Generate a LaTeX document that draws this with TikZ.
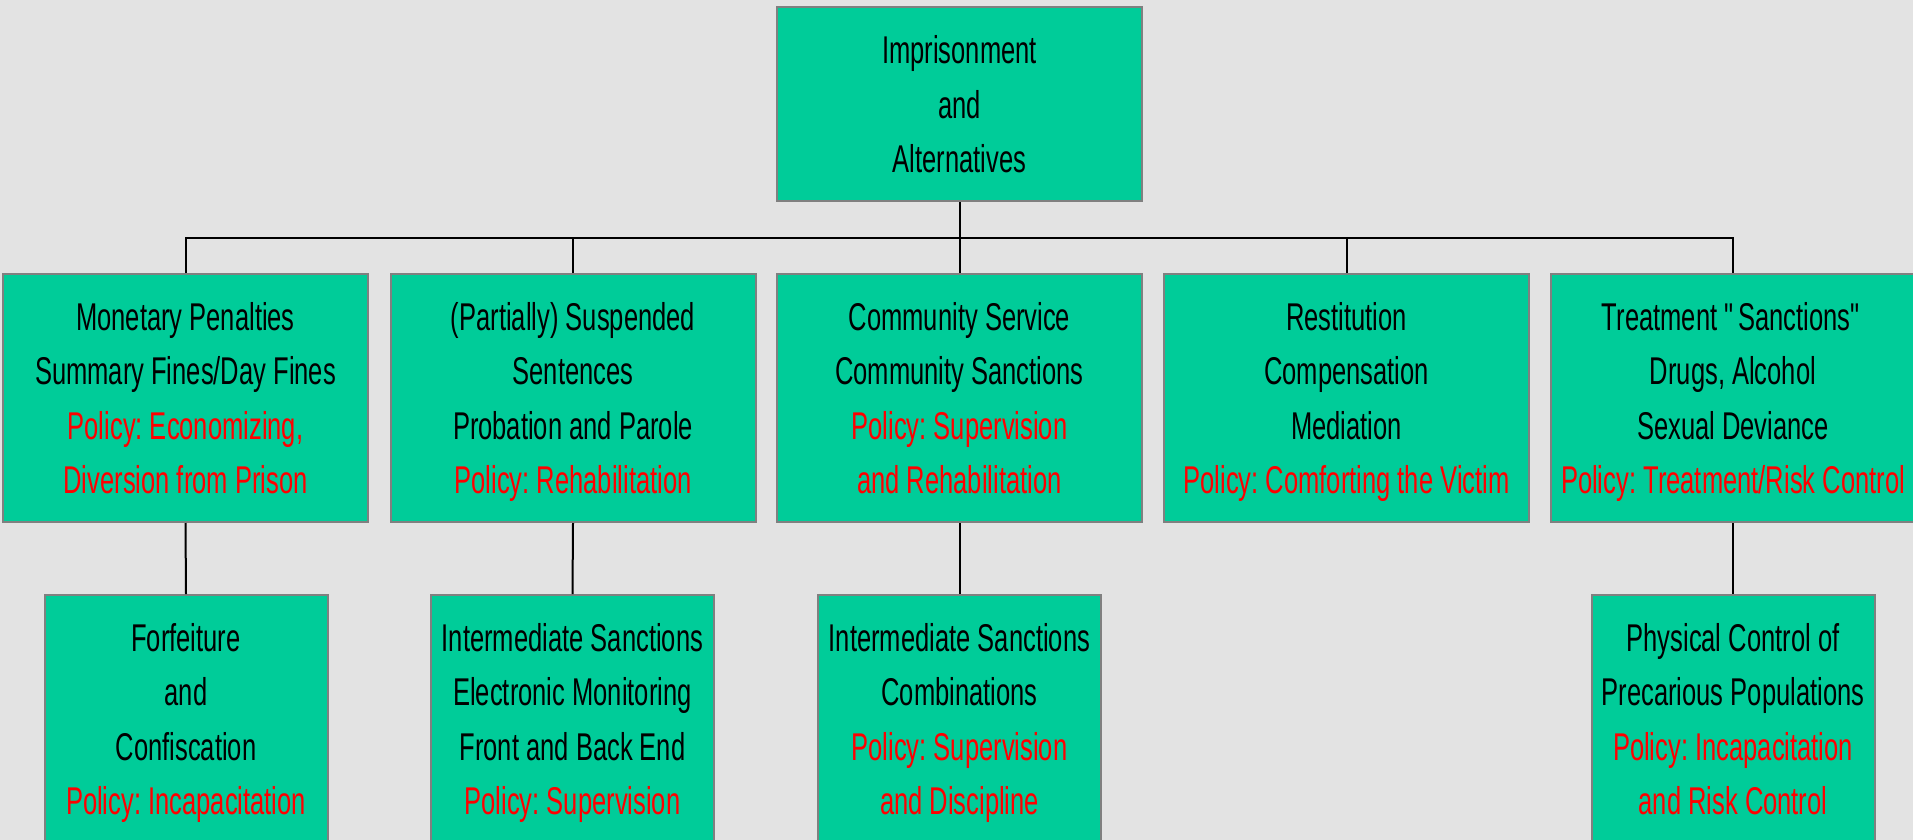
\documentclass[tikz,border=0pt]{standalone}
\usepackage{fontspec}
\setmainfont{Liberation Sans}[FakeStretch=0.66]
\definecolor{bggray}{RGB}{227,227,227}
\definecolor{boxgreen}{RGB}{0,204,153}
\definecolor{boxgray}{RGB}{128,128,128}
\definecolor{policyred}{RGB}{255,0,0}
\newcommand{\pol}[1]{\textcolor{policyred}{#1}}
\frenchspacing
\tikzset{
  orgbox/.style={draw=boxgray, line width=2pt, fill=boxgreen, align=center,
    font=\fontsize{38.7}{54.5}\selectfont\frenchspacing, inner sep=0pt,
    minimum width=365pt, minimum height=248pt,
    text height=191.5pt, text depth=0pt},
  subbox/.style={orgbox, minimum width=283pt},
  link/.style={draw=black, line width=2pt}
}
\begin{document}
\begin{tikzpicture}[x=1pt,y=-1pt]
\path[use as bounding box, fill=bggray] (0,0) rectangle (1913,840);
\clip (0,0) rectangle (1913,840);
\node[orgbox, minimum height=194pt, text height=137pt] (top) at (959.5,104) {Imprisonment\\and\\Alternatives};
\node[orgbox] (m1) at (185.5,398) {Monetary Penalties\\Summary Fines/Day Fines\\\pol{Policy: Economizing,}\\\pol{Diversion from Prison}};
\node[orgbox] (m2) at (573,398) {(Partially) Suspended\\Sentences\\Probation and Parole\\\pol{Policy: Rehabilitation}};
\node[orgbox] (m3) at (959.5,398) {Community Service\\Community Sanctions\\\pol{Policy: Supervision}\\\pol{and Rehabilitation}};
\node[orgbox] (m4) at (1346.5,398) {Restitution\\Compensation\\Mediation\\\pol{Policy: Comforting the Victim}};
\node[orgbox] (m5) at (1733,398) {Treatment {\textquotedbl}Sanctions{\textquotedbl}\\Drugs, Alcohol\\Sexual Deviance\\\pol{Policy: Treatment/Risk Control}};
\node[subbox] (s1) at (186,719) {Forfeiture\\and\\Confiscation\\\pol{Policy: Incapacitation}};
\node[subbox] (s2) at (572.5,719) {Intermediate Sanctions\\Electronic Monitoring\\Front and Back End\\\pol{Policy: Supervision}};
\node[subbox] (s3) at (959.5,719) {Intermediate Sanctions\\Combinations\\\pol{Policy: Supervision}\\\pol{and Discipline}};
\node[subbox] (s5) at (1733,719) {Physical Control of\\Precarious Populations\\\pol{Policy: Incapacitation}\\\pol{and Risk Control}};
\coordinate (bus) at (0,238);
\draw[link] (top.south) -- (top.south |- bus);
\draw[link] (m1.north) -- (m1.north |- bus) -- (m5.north |- bus) -- (m5.north);
\draw[link] (m2.north) -- (m2.north |- bus);
\draw[link] (m3.north) -- (m3.north |- bus);
\draw[link] (m4.north) -- (m4.north |- bus);
\draw[link] (m1.south) -- (s1.north);
\draw[link] (m2.south) -- (s2.north);
\draw[link] (m3.south) -- (s3.north);
\draw[link] (m5.south) -- (s5.north);
\end{tikzpicture}
\end{document}
